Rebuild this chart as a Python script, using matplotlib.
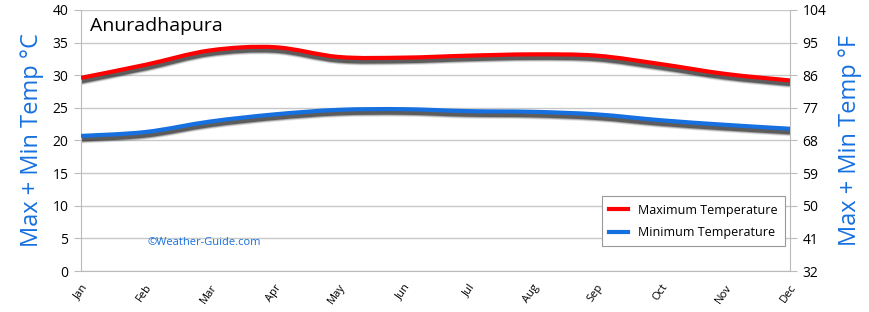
import matplotlib
matplotlib.use('Agg')
import matplotlib.pyplot as plt
import matplotlib.transforms as mtransforms
from matplotlib.path import Path
from matplotlib.patches import PathPatch
from matplotlib.lines import Line2D
import numpy as np

months = ['Jan', 'Feb', 'Mar', 'Apr', 'May', 'Jun', 'Jul', 'Aug', 'Sep', 'Oct', 'Nov', 'Dec']
max_temp = [29.6, 31.6, 33.8, 34.3, 32.8, 32.7, 33.0, 33.2, 33.0, 31.7, 30.2, 29.2]
min_temp = [20.7, 21.3, 22.9, 24.0, 24.7, 24.8, 24.5, 24.4, 24.0, 23.1, 22.4, 21.8]
c_ticks = [0, 5, 10, 15, 20, 25, 30, 35, 40]
f_ticks = [32, 41, 50, 59, 68, 77, 86, 95, 104]

plt.rcParams['font.family'] = ['Open Sans', 'DejaVu Sans']

RED = '#ff0000'
BLUE = '#1670df'


def smooth_path(x, y):
    # Catmull-Rom through the points, drawn as cubic beziers
    x = np.asarray(x, float)
    y = np.asarray(y, float)
    n = len(x)
    verts = [(x[0], y[0])]
    codes = [Path.MOVETO]
    for i in range(n - 1):
        p0 = (x[max(i - 1, 0)], y[max(i - 1, 0)])
        p1 = (x[i], y[i])
        p2 = (x[i + 1], y[i + 1])
        p3 = (x[min(i + 2, n - 1)], y[min(i + 2, n - 1)])
        c1 = (p1[0] + (p2[0] - p0[0]) / 6, p1[1] + (p2[1] - p0[1]) / 6)
        c2 = (p2[0] - (p3[0] - p1[0]) / 6, p2[1] - (p3[1] - p1[1]) / 6)
        verts += [c1, c2, p2]
        codes += [Path.CURVE4] * 3
    return Path(verts, codes)


fig = plt.figure(figsize=(8.7, 3.12), dpi=100)
ax = fig.add_axes([0.0931, 0.1314, 0.815, 0.8366])

x = np.arange(len(months))
for vals, col in [(max_temp, RED), (min_temp, BLUE)]:
    # soft dark shadow under each line
    for lw, a in [(6.0, 0.15), (4.6, 0.3), (3.3, 0.6)]:
        sh = PathPatch(smooth_path(x, vals), facecolor='none', edgecolor='#2a2a2a', lw=lw,
                       alpha=a, zorder=2, capstyle='butt')
        sh.set_transform(ax.transData + mtransforms.ScaledTranslation(0, -2.4 / 72, fig.dpi_scale_trans))
        ax.add_patch(sh)
    line = PathPatch(smooth_path(x, vals), facecolor='none', edgecolor=col, lw=3.0,
                     capstyle='butt', zorder=3)
    ax.add_patch(line)

ax.set_xlim(0, 11)
ax.set_ylim(0, 40)
ax.set_yticks(c_ticks)
ax.set_xticks(x)
ax.set_xticklabels(months, rotation=55, fontsize=8, ha='right', va='top', rotation_mode='anchor')
ax.tick_params(axis='x', length=0, pad=8)
ax.tick_params(axis='y', length=5, color='#bbbbbb', labelsize=10, pad=4)
ax.grid(axis='y', color='#c8c8c8', lw=1)
ax.set_axisbelow(True)
for s in ['left', 'bottom', 'right']:
    ax.spines[s].set_color('#bbbbbb')
ax.spines['top'].set_visible(False)
ax.set_ylabel('Max + Min Temp °C', color=BLUE, fontsize=17, labelpad=6)

ax2 = ax.twinx()
ax2.set_ylim(32, 104)
ax2.set_yticks(f_ticks)
ax2.tick_params(axis='y', length=5, color='#bbbbbb', labelsize=10, pad=4)
for s in ax2.spines.values():
    s.set_visible(False)
ax2.set_ylabel('Max + Min Temp °F', color=BLUE, fontsize=17, labelpad=8)

ax.text(0.14, 37.5, 'Anuradhapura', fontsize=14, va='center', ha='left')
ax.text(1.03, 4.4, '©Weather-Guide.com', fontsize=8, color=BLUE, va='center', ha='left')

handles = [Line2D([], [], color=RED, lw=3), Line2D([], [], color=BLUE, lw=3)]
leg = ax.legend(handles, ['Maximum Temperature', 'Minimum Temperature'], loc='lower right',
                bbox_to_anchor=(1.002, 0.07), fontsize=9, frameon=True, fancybox=False,
                handlelength=1.5, borderpad=0.6, labelspacing=0.75, framealpha=1)
leg.get_frame().set_edgecolor('#999999')
leg.get_frame().set_linewidth(0.8)
leg.set_zorder(5)

plt.savefig('out.png', dpi=100)
